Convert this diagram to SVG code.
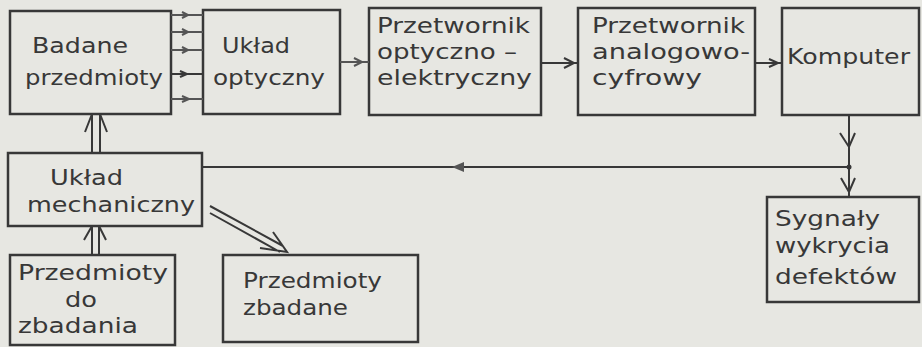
<svg xmlns="http://www.w3.org/2000/svg" width="922" height="347" viewBox="0 0 922 347">
<style>
.box{fill:none;stroke:#383838;stroke-width:2.5}
.t{font-family:"DejaVu Sans",sans-serif;font-size:22px;fill:#383838}
.ln{fill:none;stroke:#383838;stroke-width:2}
.fa{fill:none;stroke:#555;stroke-width:2}
</style>
<rect width="922" height="347" fill="#e7e7e2"/>
<g id="badane"><rect class="box" x="10" y="11" width="161" height="103"/>
<text class="t" x="32" y="53" textLength="96" lengthAdjust="spacingAndGlyphs">Badane</text><text class="t" x="25" y="85" textLength="138" lengthAdjust="spacingAndGlyphs">przedmioty</text></g>
<g id="optyczny"><rect class="box" x="203" y="10" width="137" height="104"/>
<text class="t" x="222" y="53" textLength="68" lengthAdjust="spacingAndGlyphs">Układ</text><text class="t" x="213" y="85" textLength="112" lengthAdjust="spacingAndGlyphs">optyczny</text></g>
<g id="przetwornik-oe"><rect class="box" x="369" y="8" width="172" height="107"/>
<text class="t" x="377" y="33" textLength="153" lengthAdjust="spacingAndGlyphs">Przetwornik</text><text class="t" x="377" y="59" textLength="140" lengthAdjust="spacingAndGlyphs">optyczno –</text><text class="t" x="377" y="85" textLength="155" lengthAdjust="spacingAndGlyphs">elektryczny</text></g>
<g id="przetwornik-ac"><rect class="box" x="578" y="8" width="177" height="107"/>
<text class="t" x="592" y="33" textLength="153" lengthAdjust="spacingAndGlyphs">Przetwornik</text><text class="t" x="592" y="59" textLength="158" lengthAdjust="spacingAndGlyphs">analogowo-</text><text class="t" x="592" y="85" textLength="110" lengthAdjust="spacingAndGlyphs">cyfrowy</text></g>
<g id="komputer"><rect class="box" x="782" y="8" width="137" height="107"/>
<text class="t" x="787" y="64" textLength="123" lengthAdjust="spacingAndGlyphs">Komputer</text></g>
<g id="mechaniczny"><rect class="box" x="8" y="153" width="194" height="73"/>
<text class="t" x="50" y="185" textLength="73" lengthAdjust="spacingAndGlyphs">Układ</text><text class="t" x="27" y="212" textLength="168" lengthAdjust="spacingAndGlyphs">mechaniczny</text></g>
<g id="do-zbadania"><rect class="box" x="10" y="255" width="165" height="90"/>
<text class="t" x="18" y="280" textLength="150" lengthAdjust="spacingAndGlyphs">Przedmioty</text><text class="t" x="65" y="307" textLength="32" lengthAdjust="spacingAndGlyphs">do</text><text class="t" x="18" y="333" textLength="120" lengthAdjust="spacingAndGlyphs">zbadania</text></g>
<g id="zbadane"><rect class="box" x="223" y="255" width="195" height="87"/>
<text class="t" x="243" y="288" textLength="139" lengthAdjust="spacingAndGlyphs">Przedmioty</text><text class="t" x="243" y="315" textLength="105" lengthAdjust="spacingAndGlyphs">zbadane</text></g>
<g id="sygnaly"><rect class="box" x="767" y="197" width="152" height="105"/>
<text class="t" x="775" y="226" textLength="105" lengthAdjust="spacingAndGlyphs">Sygnały</text><text class="t" x="775" y="253" textLength="115" lengthAdjust="spacingAndGlyphs">wykrycia</text><text class="t" x="775" y="284" textLength="122" lengthAdjust="spacingAndGlyphs">defektów</text></g>
<g id="connectors">
<g class="fa">
<path d="M171 15H203M182 12l6 3l-6 3"/>
<path d="M171 32H203M182 29l6 3l-6 3"/>
<path d="M171 50H203M182 47l6 3l-6 3"/>
<path d="M171 74H203M180 71l7 3l-7 3" stroke="#383838"/>
<path d="M171 99H203M182 96l7 3l-7 3"/>
<path d="M340 62H369M354 58l8 4l-8 4"/>
</g>
<path class="ln" d="M541 63H578M564 58l10 5l-10 5"/>
<path class="ln" d="M755 63H782M769 59l9 4l-9 4"/>
<path class="ln" d="M849 115V197M840 133l9 14l6-14M841 178l8 14l6-14M849 167H202"/>
<circle cx="849" cy="167" r="2.5" fill="#383838"/>
<path d="M452 167l12-5v10z" fill="#555"/>
<path class="ln" d="M92 153V114M100 153V114M85 132l7-18M107 132l-7-18"/>
<path class="ln" d="M92 255V226M99 255V226M84 240l8-14M106 240l-7-14"/>
<path class="ln" d="M210 206L283 246M210 213L280 252M273 232L287 252L260 248"/>
</g>
</svg>
